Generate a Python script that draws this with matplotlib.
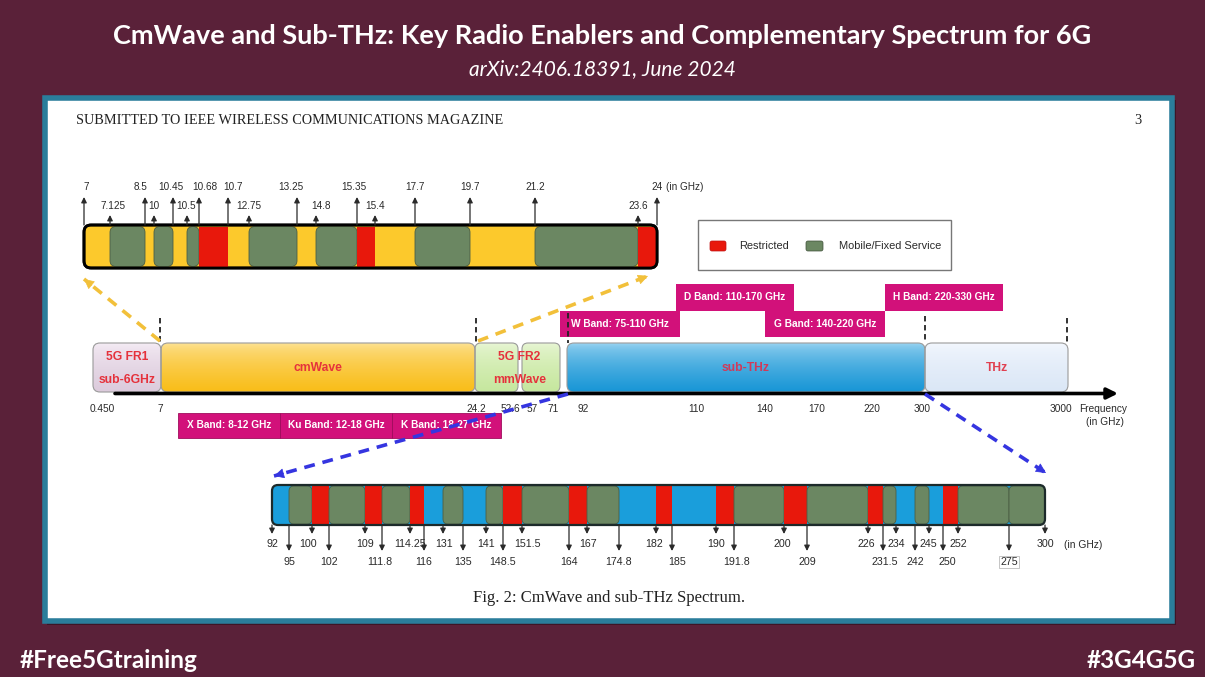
import numpy as np
import matplotlib
matplotlib.use('Agg')
import matplotlib.pyplot as plt
from matplotlib.patches import FancyBboxPatch, Rectangle

# ---------------- data ----------------
title = 'CmWave and Sub-THz: Key Radio Enablers and Complementary Spectrum for 6G'
subtitle = 'arXiv:2406.18391, June 2024'
header = 'SUBMITTED TO IEEE WIRELESS COMMUNICATIONS MAGAZINE'
page_no = '3'
caption = 'Fig. 2: CmWave and sub-THz Spectrum.'
footer_left = '#Free5Gtraining'
footer_right = '#3G4G5G'

# cmWave zoom, 7-24 GHz
cm_ticks = ['7', '7.125', '8.5', '10', '10.45', '10.5', '10.68', '10.7', '12.75', '13.25',
            '14.8', '15.35', '15.4', '17.7', '19.7', '21.2', '23.6', '24']
cm_segments = [('7.125', '8.5', 'M'), ('10', '10.45', 'M'), ('10.5', '10.68', 'M'),
               ('10.68', '10.7', 'R'), ('12.75', '13.25', 'M'), ('14.8', '15.35', 'M'),
               ('15.35', '15.4', 'R'), ('17.7', '19.7', 'M'), ('21.2', '23.6', 'M'),
               ('23.6', '24', 'R')]

# overview axis
ov_ticks = ['0.450', '7', '24.2', '52.6', '57', '71', '92', '110', '140', '170', '220', '300', '3000']
ov_ranges = ['5G FR1\nsub-6GHz', 'cmWave', '5G FR2\nmmWave', 'sub-THz', 'THz']
ieee_upper = ['W Band: 75-110 GHz', 'D Band: 110-170 GHz', 'G Band: 140-220 GHz', 'H Band: 220-330 GHz']
ieee_lower = ['X Band: 8-12 GHz', 'Ku Band: 12-18 GHz', 'K Band: 18-27 GHz']

# sub-THz zoom, 92-300 GHz
thz_ticks = ['92', '95', '100', '102', '109', '111.8', '114.25', '116', '131', '135', '141',
             '148.5', '151.5', '164', '167', '174.8', '182', '185', '190', '191.8', '200',
             '209', '226', '231.5', '234', '242', '245', '250', '252', '275', '300']
thz_segments = [('95', '100', 'M'), ('100', '102', 'R'), ('102', '109', 'M'), ('109', '111.8', 'R'),
                ('111.8', '114.25', 'M'), ('114.25', '116', 'R'), ('131', '135', 'M'),
                ('141', '148.5', 'M'), ('148.5', '151.5', 'R'), ('151.5', '164', 'M'),
                ('164', '167', 'R'), ('167', '174.8', 'M'), ('182', '185', 'R'), ('190', '191.8', 'R'),
                ('191.8', '200', 'M'), ('200', '209', 'R'), ('209', '226', 'M'), ('226', '231.5', 'R'),
                ('231.5', '234', 'M'), ('242', '245', 'M'), ('250', '252', 'R'), ('252', '275', 'M'),
                ('275', '300', 'M')]
legend_labels = ['Restricted', 'Mobile/Fixed Service']

# ---------------- layout (schematic, pixel units) ----------------
cm_x = [84, 110, 145, 154, 173, 187, 199, 228, 249, 297, 316, 357, 375, 415, 470, 535, 638, 657]
cm_row = [0, 1, 0, 1, 0, 1, 0, 0, 1, 0, 1, 0, 1, 0, 0, 0, 1, 0]
cm_dx = [2, 3, -4, 0, -2, -1, 6, 5, 0, -6, 5, -3, 0, 0, 0, 0, 0, 0]
thz_x = [272, 289, 312, 329, 365, 382, 410, 424, 443, 463, 486, 503, 522, 569, 587, 619, 656, 672,
         716, 734, 784, 807, 868, 883, 896, 915, 929, 943, 958, 1009, 1045]
thz_row = [0, 1, 0, 1, 0, 1, 0, 1, 0, 1, 0, 1, 0, 1, 0, 1, 0, 1, 0, 1, 0, 1, 0, 1, 0, 1, 0, 1, 0, 1, 0]
thz_dx = [0, 0, -4, 0, 0, -2, 0, 0, 1, 0, 0, 0, 5, 0, 1, 0, -2, 5, 0, 3, -2, 0, -2, 2, 0, 0, -1, 4, 0, 0, 0]
ov_tick_x = [102, 160, 476, 510, 532, 553, 583, 696, 765, 817, 872, 922, 1061]
ov_span = [(93, 161), (161, 475), (475, 560), (567, 925), (925, 1068)]
ov_grad = [('#f6eef6', '#dccbdc'), ('#fde49a', '#f9bd18'), ('#eaf7d8', '#c6e79e'),
           ('#9fd6f2', '#1896d6'), ('#f4f8fe', '#dbe7f6')]
ov_txt = ['#e5323c', '#e5323c', '#e5323c', '#cf3a5a', '#e04050']
upper_box = [(560, 680, 311, 337), (676, 794, 284, 311), (765, 885, 311, 337), (885, 1003, 284, 311)]
lower_box = [(178, 280, 413, 438), (280, 392, 413, 438), (392, 501, 413, 438)]

MAROON = '#5a2139'
TEAL = '#2a7d9b'
GREEN = '#6b8762'
RED = '#e8180c'
YELLOW = '#fcc92c'
BLUE = '#1a9edb'
PINK = '#d2117a'
LBL = '#2a2a2a'
SANS = 'Liberation Sans'

W, H = 1205, 677
fig = plt.figure(figsize=(W / 100, H / 100), dpi=100)
fig.patch.set_facecolor(MAROON)
ax = fig.add_axes([0, 0, 1, 1])
ax.set_facecolor(MAROON)
ax.axis('off')


def rbox(x0, x1, y0, y1, r, fc, ec='none', lw=0, z=2):
    p = FancyBboxPatch((x0, y0), x1 - x0, y1 - y0, boxstyle='round,pad=0,rounding_size=%g' % r,
                       fc=fc, ec=ec, lw=lw, zorder=z)
    ax.add_patch(p)
    return p


def grad_box(x0, x1, y0, y1, ctop, cbot, r, z=2):
    p = rbox(x0, x1, y0, y1, r, 'none', ec='#9a9a9a', lw=0.8, z=z + 0.1)
    c0 = np.array(matplotlib.colors.to_rgb(ctop))
    c1 = np.array(matplotlib.colors.to_rgb(cbot))
    t = np.linspace(0, 1, 64) ** 0.6
    img = (c0[None, :] * (1 - t[:, None]) + c1[None, :] * t[:, None])[:, None, :]
    im = ax.imshow(img, extent=(x0, x1, y1, y0), origin='upper', aspect='auto', zorder=z,
                   interpolation='bilinear')
    im.set_clip_path(p)


def arrow(x, ya, yb, color=LBL, lw=0.9, ms=8):
    ax.annotate('', xy=(x, yb), xytext=(x, ya),
                arrowprops=dict(arrowstyle='-|>', color=color, lw=lw, mutation_scale=ms,
                                shrinkA=0, shrinkB=0), zorder=6)


def dashed_arrow(x0, y0, x1, y1, color):
    ax.plot([x0, x1], [y0, y1], ls=(0, (3, 2.2)), color=color, lw=2.6, zorder=7,
            solid_capstyle='butt', dash_capstyle='butt')
    d = np.array([x1 - x0, y1 - y0], float)
    d /= np.hypot(*d)
    ax.annotate('', xy=(x1, y1), xytext=(x1 - d[0] * 10, y1 - d[1] * 10),
                arrowprops=dict(arrowstyle='-|>', color=color, lw=0.5, mutation_scale=16,
                                shrinkA=0, shrinkB=0), zorder=7)


# ---- slide frame ----
ax.text(W / 2, 36, title, color='white', fontsize=19.5, fontweight='bold', family='Lato',
        ha='center', va='center')
ax.text(W / 2, 69, subtitle, color='white', fontsize=15, style='italic', family='Lato',
        ha='center', va='center')
ax.add_patch(Rectangle((47, 100), 1129, 525, fc='#3d1526', ec='none', zorder=0.5))
ax.add_patch(Rectangle((45, 98), 1127, 523, fc='white', ec=TEAL, lw=4, zorder=1))
ax.text(20, 660, footer_left, color='white', fontsize=17.5, fontweight='bold', family='Lato',
        ha='left', va='center')
ax.text(1196, 660, footer_right, color='white', fontsize=17.5, fontweight='bold', family='Lato',
        ha='right', va='center')

ax.text(76, 120, header, family='Liberation Serif', fontsize=10.3, color='#222222', ha='left', va='center')
ax.text(1138, 120, page_no, family='Liberation Serif', fontsize=10.3, color='#222222', ha='center', va='center')
ax.text(609, 598, caption, family='Liberation Serif', fontsize=12, color='#222222',
        ha='center', va='center')

# ---- cmWave zoom bar ----
cmpos = dict(zip(cm_ticks, cm_x))
rbox(cm_x[0], cm_x[-1], 225, 268, 7, YELLOW, ec='black', lw=2, z=2)
for a, b, k in cm_segments:
    if k == 'M':
        rbox(cmpos[a], cmpos[b], 226.5, 266.5, 6, GREEN, ec='#4a5e44', lw=0.6, z=3)
    else:
        ax.add_patch(Rectangle((cmpos[a], 226.5), cmpos[b] - cmpos[a], 40, fc=RED, ec='none', zorder=3))
rbox(cm_x[0], cm_x[-1], 225, 268, 7, 'none', ec='black', lw=2, z=4)
for lab, x, r, dx in zip(cm_ticks, cm_x, cm_row, cm_dx):
    tip = 197 if r == 0 else 215
    ly = 187 if r == 0 else 206
    arrow(x, 225, tip)
    ax.text(x + dx, ly, lab, fontsize=7.2, color=LBL, ha='center', va='center', family=SANS)
ax.text(666, 187, '(in GHz)', fontsize=7.2, color=LBL, ha='left', va='center', family=SANS)

# legend
ax.add_patch(Rectangle((698, 220), 253, 50, fc='white', ec='#777777', lw=1, zorder=2))
rbox(710, 726, 241, 251, 2, RED, ec='#c01010', lw=0.5, z=3)
ax.text(739, 246, legend_labels[0], fontsize=7.9, color=LBL, ha='left', va='center', family=SANS)
rbox(806, 823, 241, 251, 2, GREEN, ec='#3e4e38', lw=0.5, z=3)
ax.text(839, 246, legend_labels[1], fontsize=7.9, color=LBL, ha='left', va='center', family=SANS)

# ---- overview bar ----
for i, (lab, (x0, x1), (c0, c1), tc) in enumerate(zip(ov_ranges, ov_span, ov_grad, ov_txt)):
    if i == 2:
        grad_box(x0, 518, 343, 392, c0, c1, 6)
        grad_box(522, x1, 343, 392, c0, c1, 6)
    else:
        grad_box(x0, x1, 343, 392, c0, c1, 7)
    lines = lab.split('\n')
    cx = (x0 + x1) / 2 + (2 if i == 2 else 0)
    if len(lines) == 2:
        ax.text(cx, 357, lines[0], fontsize=8.7, fontweight='bold', color=tc, ha='center', va='center',
                family=SANS, zorder=5)
        ax.text(cx, 380, lines[1], fontsize=8.7, fontweight='bold', color=tc, ha='center', va='center',
                family=SANS, zorder=5)
    else:
        ax.text(cx, 368, lab, fontsize=8.7, fontweight='bold', color=tc, ha='center', va='center',
                family=SANS, zorder=5)

ax.annotate('', xy=(1118, 393.5), xytext=(115, 393.5),
            arrowprops=dict(arrowstyle='-|>', color='black', lw=2.6, mutation_scale=16,
                            shrinkA=0, shrinkB=0), zorder=6)
for lab, x in zip(ov_ticks, ov_tick_x):
    ax.text(x, 409, lab, fontsize=7.3, color=LBL, ha='center', va='center', family=SANS)
ax.text(1103, 409, 'Frequency', fontsize=7.3, color=LBL, ha='center', va='center', family=SANS)
ax.text(1105, 422, '(in GHz)', fontsize=7.3, color=LBL, ha='center', va='center', family=SANS)

for x, y0 in [(160, 318), (476, 318), (568, 313), (925, 316), (1067, 318)]:
    ax.plot([x, x], [y0, 343], ls=(0, (3, 2)), color='#222222', lw=1.3, zorder=5)

for lab, (x0, x1, y0, y1) in zip(ieee_upper, upper_box):
    ax.add_patch(Rectangle((x0, y0), x1 - x0, y1 - y0, fc=PINK, ec='none', zorder=3))
    ax.text((x0 + x1) / 2, (y0 + y1) / 2, lab, fontsize=7.3, fontweight='bold', color='white',
            ha='center', va='center', family=SANS, zorder=4)
for lab, (x0, x1, y0, y1) in zip(ieee_lower, lower_box):
    ax.add_patch(Rectangle((x0, y0), x1 - x0, y1 - y0, fc=PINK, ec='#a00c5c', lw=0.6, zorder=3))
    ax.text((x0 + x1) / 2, (y0 + y1) / 2, lab, fontsize=7.3, fontweight='bold', color='white',
            ha='center', va='center', family=SANS, zorder=4)

# dashed zoom arrows
dashed_arrow(160, 341, 84, 279, '#f2c03a')
dashed_arrow(478, 341, 648, 276, '#f2c03a')
dashed_arrow(568, 394, 274, 476, '#3535e0')
dashed_arrow(925, 394, 1046, 473, '#3535e0')

# ---- sub-THz zoom bar ----
tpos = dict(zip(thz_ticks, thz_x))
rbox(thz_x[0], thz_x[-1], 485, 525, 6, BLUE, ec='none', z=2)
for a, b, k in thz_segments:
    if k == 'M':
        rbox(tpos[a], tpos[b], 486, 524, 5, GREEN, ec='#4a5e44', lw=0.6, z=3)
    else:
        ax.add_patch(Rectangle((tpos[a], 486), tpos[b] - tpos[a], 38, fc=RED, ec='none', zorder=3))
rbox(thz_x[0], thz_x[-1], 485, 525, 6, 'none', ec='#1c2a2a', lw=1.6, z=4)
for lab, x, r, dx in zip(thz_ticks, thz_x, thz_row, thz_dx):
    tip = 534 if r == 0 else 551
    ly = 544 if r == 0 else 562
    arrow(x, 525, tip)
    t = ax.text(x + dx, ly, lab, fontsize=7.7, color=LBL, ha='center', va='center', family=SANS)
    if lab == '275':
        t.set_bbox(dict(fc='none', ec='#bbbbbb', lw=0.6, pad=0.8))
ax.text(1064, 545, '(in GHz)', fontsize=7.4, color=LBL, ha='left', va='center', family=SANS)

ax.set_xlim(0, W)
ax.set_ylim(H, 0)
fig.savefig('out.png', dpi=100, facecolor=MAROON)
